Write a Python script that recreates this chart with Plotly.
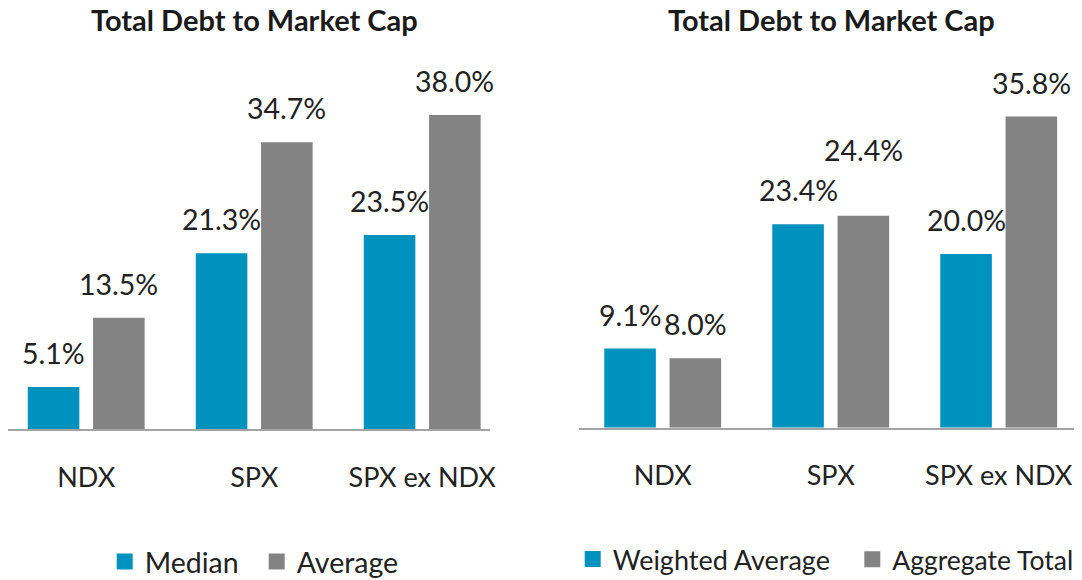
import plotly.graph_objects as go

categories = ["NDX", "SPX", "SPX ex NDX"]
median_vals = [5.1, 21.3, 23.5]
average_vals = [13.5, 34.7, 38.0]
wavg_vals = [9.1, 23.4, 20.0]
aggregate_vals = [8.0, 24.4, 35.8]
chart_title = "Total Debt to Market Cap"

BLUE = "#0092BE"
GRAY = "#838383"
TXT = "#222222"
FONT = "Lato"
OFF = 8                      # page body margin of the html page
W, H = 1082 - OFF, 580 - OFF


def px(x):
    return (x - OFF) / W


def py(y):
    return 1 - (y - OFF) / H


fig = go.Figure()

fig.add_trace(go.Bar(x=categories, y=median_vals, marker_color=BLUE, marker_line_width=0,
                     showlegend=False, xaxis="x", yaxis="y"))
fig.add_trace(go.Bar(x=categories, y=average_vals, marker_color=GRAY, marker_line_width=0,
                     showlegend=False, xaxis="x", yaxis="y"))
fig.add_trace(go.Bar(x=categories, y=wavg_vals, marker_color=BLUE, marker_line_width=0,
                     showlegend=False, xaxis="x2", yaxis="y2"))
fig.add_trace(go.Bar(x=categories, y=aggregate_vals, marker_color=GRAY, marker_line_width=0,
                     showlegend=False, xaxis="x2", yaxis="y2"))

# legend entries (one legend per entry for precise placement)
legend_items = [("Median", BLUE, "legend", "y"), ("Average", GRAY, "legend2", "y"),
                ("Weighted Average", BLUE, "legend3", "y2"), ("Aggregate Total", GRAY, "legend4", "y2")]
for name, col, leg, yax in legend_items:
    fig.add_trace(go.Scatter(x=[None], y=[None], mode="markers", name=name,
                             marker=dict(symbol="square", size=16, color=col),
                             legend=leg, xaxis="x" if yax == "y" else "x2", yaxis=yax))

# value labels above bars
SLOT = 32.65
extra_shift = {("x2", 1, "SPX"): 32}   # label lifted to avoid its neighbour
for axx, series in [("x", [median_vals, average_vals]), ("x2", [wavg_vals, aggregate_vals])]:
    yref = "y" if axx == "x" else "y2"
    for si, vals in enumerate(series):
        for c, v in zip(categories, vals):
            fig.add_annotation(x=c, y=v, xref=axx, yref=yref, text=f"{v:.1f}%",
                               showarrow=False, yanchor="bottom", xanchor="center",
                               xshift=-SLOT if si == 0 else SLOT,
                               yshift=15 + extra_shift.get((axx, si, c), 0),
                               font=dict(family=FONT, size=28.5, color=TXT))

# chart titles
for xc in [254.3, 831.3]:
    fig.add_annotation(x=px(xc), y=py(19.5), xref="paper", yref="paper",
                       text=f"<b>{chart_title}</b>",
                       showarrow=False, xanchor="center", yanchor="middle",
                       font=dict(family=FONT, size=29, color="#1a1a1a"))

axis_common = dict(showgrid=False, zeroline=False, showline=True, linecolor="#A3A3A3",
                   linewidth=2, ticks="", ticklabelstandoff=23,
                   tickfont=dict(family=FONT, size=27, color=TXT))
leg_common = dict(orientation="h", xanchor="left", yanchor="middle", bgcolor="rgba(0,0,0,0)",
                  itemclick=False, itemdoubleclick=False)

fig.update_layout(
    width=W, height=H,
    margin=dict(l=0, r=0, t=0, b=0, autoexpand=False),
    paper_bgcolor="white", plot_bgcolor="white",
    barmode="group", bargap=0.2226, bargroupgap=0.21,
    showlegend=True,
    xaxis=dict(domain=[0, px(490)], range=[(OFF - 86.2) / 168, (490 - 86.2) / 168],
               anchor="y", **axis_common),
    yaxis=dict(domain=[py(429.3), py(40)], range=[0, (429.3 - 40) / 8.27],
               visible=False, anchor="x"),
    xaxis2=dict(domain=[px(578.7), 1.0], range=[-0.5, -0.5 + (1082 - 578.7) / 168],
                anchor="y2", **axis_common),
    yaxis2=dict(domain=[py(427.7), py(40)], range=[0, (427.7 - 40) / 8.69],
                visible=False, anchor="x2"),
    legend=dict(x=px(145.7 - 41), y=py(562), font=dict(family=FONT, size=28.5, color=TXT), **leg_common),
    legend2=dict(x=px(297.7 - 41), y=py(562), font=dict(family=FONT, size=28.5, color=TXT), **leg_common),
    legend3=dict(x=px(613.7 - 41), y=py(559.5), font=dict(family=FONT, size=27, color=TXT), **leg_common),
    legend4=dict(x=px(895.3 - 43), y=py(559.5), font=dict(family=FONT, size=26.5, color=TXT), **leg_common),
)

fig.write_html("out.html")
